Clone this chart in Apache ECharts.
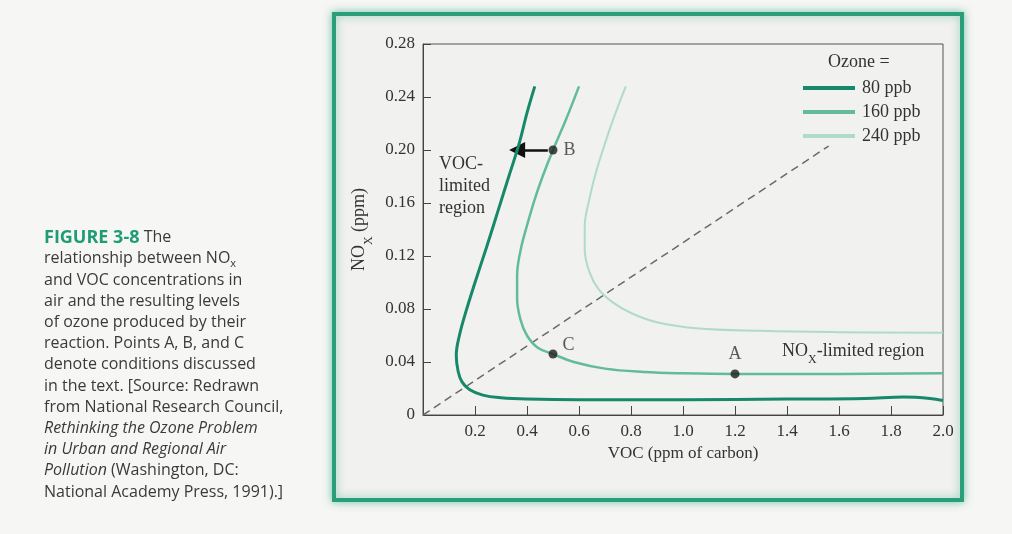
<!DOCTYPE html>
<html><head><meta charset="utf-8">
<script src="https://cdn.jsdelivr.net/npm/echarts@6/dist/echarts.min.js"></script>
<style>html,body{margin:0;padding:0;background:#f6f6f4;}#c{width:1012px;height:534px;}</style>
</head><body><div id="c"></div>
<script>
// ---- data (VOC ppm C, NOx ppm) ----
const seriesNames = ['80 ppb', '160 ppb', '240 ppb'];
const ozone80 = [[0.43,0.248],[0.40,0.228],[0.37,0.205],[0.33,0.18],[0.29,0.155],[0.245,0.127],[0.20,0.10],[0.165,0.078],[0.14,0.06],[0.128,0.045],[0.135,0.033],[0.15,0.025],[0.18,0.019],[0.23,0.015],[0.30,0.013],[0.40,0.012],[0.6,0.0115],[1.0,0.0115],[1.4,0.012],[1.7,0.0125],[1.85,0.0135],[1.95,0.0125],[2.0,0.011]];
const ozone160 = [[0.60,0.248],[0.55,0.223],[0.50,0.20],[0.46,0.18],[0.43,0.163],[0.40,0.143],[0.375,0.124],[0.362,0.105],[0.362,0.088],[0.375,0.072],[0.40,0.06],[0.44,0.051],[0.5,0.046],[0.58,0.04],[0.7,0.035],[0.85,0.0325],[1.0,0.0315],[1.2,0.031],[1.6,0.031],[2.0,0.0315]];
const ozone240 = [[0.78,0.248],[0.735,0.225],[0.70,0.205],[0.665,0.183],[0.64,0.163],[0.622,0.142],[0.622,0.125],[0.64,0.108],[0.675,0.095],[0.73,0.085],[0.80,0.077],[0.9,0.07],[1.05,0.0655],[1.3,0.0635],[1.6,0.0625],[2.0,0.062]];
const ratioLine = [[0,0],[1.56,0.203]];
const pointNames = ['A', 'B', 'C'];
const pointValues = [[1.2,0.031],[0.5,0.20],[0.5,0.046]];
const arrowFrom = [0.48, 0.20];
const arrowTo = [0.362, 0.20];

const serif = 'Liberation Serif';
const sans = 'Open Sans';
const colors = ['#17886a', '#62bb9e', '#afdbcb'];
const widths = [3, 2.5, 2];

const chart = echarts.init(document.getElementById('c'));
const curveData = [ozone80, ozone160, ozone240];
const series = curveData.map((d, i) => ({
  name: seriesNames[i], type: 'line', data: d, smooth: 0.4, symbol: 'none',
  lineStyle: { color: colors[i], width: widths[i] }, itemStyle: { color: colors[i] },
  z: 5 - i, silent: true
}));
series.push({
  type: 'line', data: ratioLine, symbol: 'none', silent: true,
  lineStyle: { color: '#6a6a6a', width: 1.5, type: [8, 5] }, z: 1
});
const labelPos = { A: { position: 'top', distance: 6 }, B: { position: 'right', distance: 6 }, C: { position: 'right', distance: 5, offset: [0, -9] } };
series.push({
  type: 'scatter', symbolSize: 9, itemStyle: { color: '#1e1e1e' }, z: 10,
  data: pointValues.map((v, i) => ({
    value: v, name: pointNames[i],
    label: Object.assign({ show: true, formatter: pointNames[i], fontFamily: serif, fontSize: 18, color: '#333' }, labelPos[pointNames[i]])
  })),
  markLine: {
    silent: true, symbol: ['none', 'triangle'], symbolSize: 16,
    lineStyle: { color: '#111', width: 2.5, type: 'solid' }, itemStyle: { color: '#111' }, label: { show: false },
    data: [[{ coord: arrowFrom }, { coord: arrowTo }]]
  }
});

chart.setOption({
  backgroundColor: '#f6f6f4',
  animation: false,
  grid: { left: 423, top: 44, width: 520, height: 371, show: true, borderColor: '#555', borderWidth: 1, backgroundColor: 'transparent' },
  xAxis: {
    type: 'value', min: 0, max: 2.0, interval: 0.2,
    name: 'VOC (ppm of carbon)', nameLocation: 'middle', nameGap: 30,
    nameTextStyle: { fontFamily: serif, fontSize: 17, color: '#333' },
    axisLine: { lineStyle: { color: '#444', width: 1 } },
    axisTick: { inside: true, length: 9, lineStyle: { color: '#444' } },
    axisLabel: { fontFamily: serif, fontSize: 17, color: '#333', margin: 8, formatter: v => v === 0 ? '' : v.toFixed(1) },
    splitLine: { show: false }
  },
  yAxis: {
    type: 'value', min: 0, max: 0.28, interval: 0.04,
    name: 'NO{sub|X} (ppm)', nameLocation: 'middle', nameGap: 52, nameRotate: 90,
    nameTextStyle: { fontFamily: serif, fontSize: 18, color: '#333',
      rich: { sub: { fontFamily: serif, fontSize: 12, color: '#333', verticalAlign: 'bottom', padding: [0, 0, -6, 0] } } },
    axisLine: { lineStyle: { color: '#444', width: 1 } },
    axisTick: { inside: true, length: 8, lineStyle: { color: '#444' } },
    axisLabel: { fontFamily: serif, fontSize: 17, color: '#333', margin: 8, formatter: v => v === 0 ? '0' : v.toFixed(2) },
    splitLine: { show: false }
  },
  legend: {
    data: seriesNames, orient: 'vertical', left: 798, top: 74, icon: 'rect',
    itemWidth: 52, itemHeight: 4, itemGap: 6,
    textStyle: { fontFamily: serif, fontSize: 18, color: '#333', padding: [0, 0, 0, 2] }
  },
  graphic: [
    { type: 'rect', z: -10, shape: { x: 334, y: 14, width: 628, height: 486 },
      style: { fill: '#f1f1ef', stroke: '#2a9e7a', lineWidth: 4, shadowBlur: 8, shadowColor: 'rgba(40,170,130,0.55)' } },
    { type: 'text', left: 828, top: 53, style: { text: 'Ozone =', fontFamily: serif, fontSize: 18, fill: '#333' } },
    { type: 'text', left: 439, top: 153, style: { text: 'VOC-\nlimited\nregion', fontFamily: serif, fontSize: 18, lineHeight: 22, fill: '#333' } },
    { type: 'text', left: 782, top: 342, style: { text: 'NO{sub|X}-limited region', fontFamily: serif, fontSize: 18, fill: '#333',
      rich: { sub: { fontFamily: serif, fontSize: 12, fill: '#333', verticalAlign: 'bottom', padding: [0, 0, -6, 0] } } } },
    { type: 'text', left: 44, top: 227, style: {
      text: '{b|FIGURE 3-8} The\nrelationship between NO{s|x}\nand VOC concentrations in\nair and the resulting levels\nof ozone produced by their\nreaction. Points A, B, and C\ndenote conditions discussed\nin the text. [Source: Redrawn\nfrom National Research Council,\n{i|Rethinking the Ozone Problem}\n{i|in Urban and Regional Air}\n{i|Pollution} (Washington, DC:\nNational Academy Press, 1991).]',
      fontFamily: sans, fontSize: 16, lineHeight: 21.2, fill: '#3a3a3a',
      rich: {
        b: { fontFamily: sans, fontSize: 18, fontWeight: 'bold', fill: '#1f9c76', lineHeight: 21.2 },
        i: { fontFamily: sans, fontSize: 16, fontStyle: 'italic', fill: '#3a3a3a', lineHeight: 21.2 },
        s: { fontFamily: sans, fontSize: 11, fill: '#3a3a3a', verticalAlign: 'bottom' }
      } } }
  ],
  series: series
});
</script></body></html>
